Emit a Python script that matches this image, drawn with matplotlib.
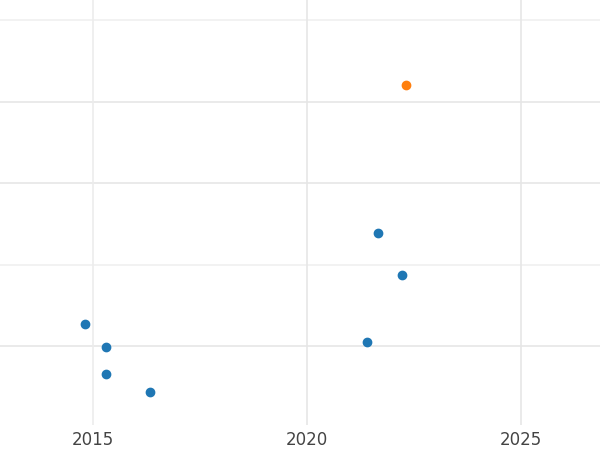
import matplotlib.pyplot as plt

# data
years_blue = [2014.81, 2015.30, 2015.30, 2016.33, 2021.41, 2021.67, 2022.23]
vals_blue = [1.27, 0.99, 0.66, 0.44, 1.05, 2.39, 1.87]
years_orange = [2022.33]
vals_orange = [4.20]

fig = plt.figure(figsize=(6, 4.5), dpi=100)
ax = fig.add_axes([0, 0.055, 1, 0.945])

# grid lines
for y, c in [(1, '#e6e6e6'), (2, '#f0f0f0'), (3, '#e6e6e6'), (4, '#e6e6e6'), (5, '#f0f0f0')]:
    ax.axhline(y, color=c, linewidth=1.2, zorder=0)
for x, c in [(2015, '#ececec'), (2020, '#e6e6e6'), (2025, '#e6e6e6')]:
    ax.axvline(x, color=c, linewidth=1.2, zorder=0)

ax.scatter(years_blue, vals_blue, s=36, color='#1f77b4', zorder=3)
ax.scatter(years_orange, vals_orange, s=36, color='#ff7f0e', zorder=3)

ax.set_xlim(2012.82, 2026.86)
ax.set_ylim(0.031, 5.245)
ax.set_xticks([2015, 2020, 2025])
ax.set_yticks([])
ax.tick_params(axis='x', length=0, labelsize=12, labelcolor='#444444', pad=4)
for s in ax.spines.values():
    s.set_visible(False)

fig.savefig('out.png', dpi=100)
